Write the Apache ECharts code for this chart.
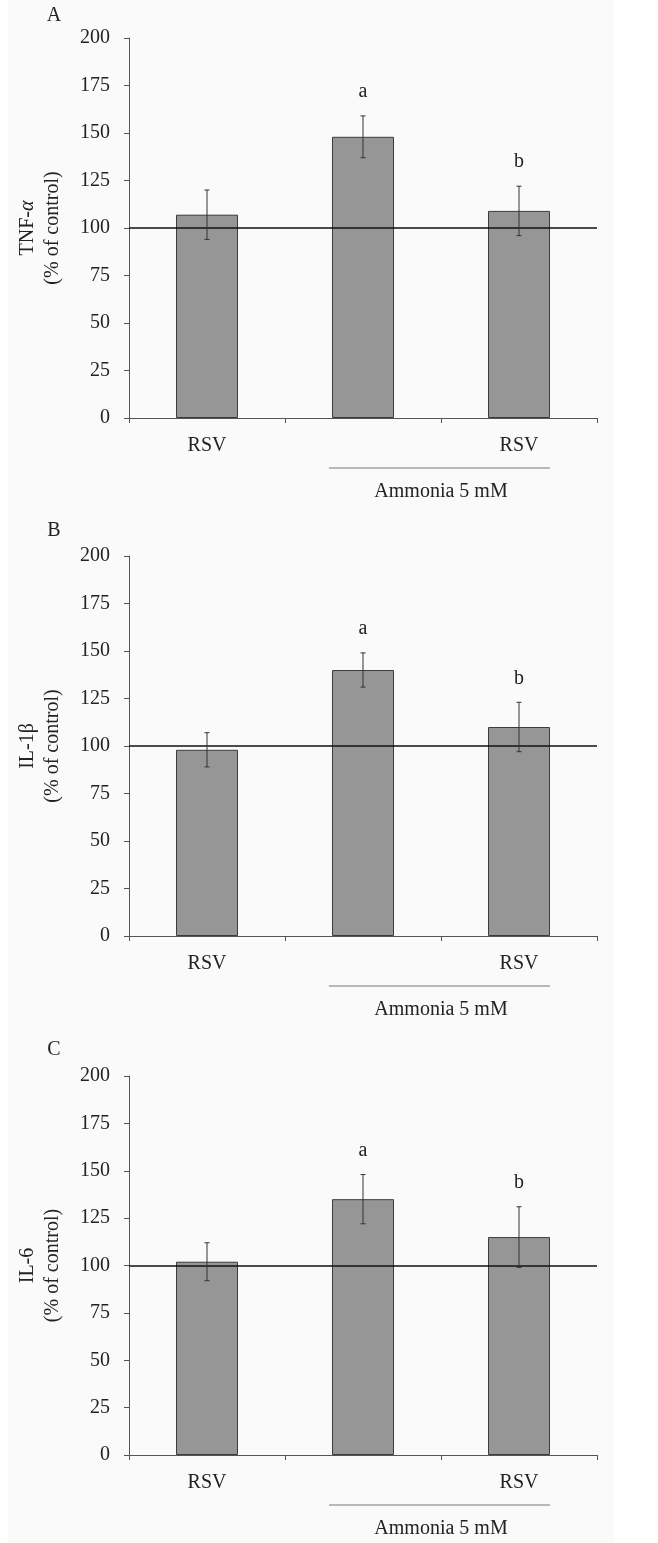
<!DOCTYPE html>
<html>
<head>
<meta charset="utf-8">
<script src="https://cdn.jsdelivr.net/npm/echarts@6/dist/echarts.min.js"></script>
<style>
html,body{margin:0;padding:0;background:#fff;}
#chart{width:658px;height:1543px;}
</style>
</head>
<body>
<div id="chart"></div>
<script>
// ---- data ----
const categories = ['RSV', 'Ammonia', 'Ammonia + RSV'];
const tickLabels = ['RSV', '', 'RSV'];
const groupLabel = 'Ammonia 5 mM';
const panelLetters = ['A', 'B', 'C'];
const sigLetters = ['', 'a', 'b'];
const controlLevel = 100;
const yMin = 0, yMax = 200, yStep = 25;

const tnfMean = [107, 148, 109];
const tnfErr = [13, 11, 13];
const il1bMean = [98, 140, 110];
const il1bErr = [9, 9, 13];
const il6Mean = [102, 135, 115];
const il6Err = [10, 13, 16];

const panelNames = [
  '{n|TNF-}{i|α}\n{n|(% of control)}',
  '{n|IL-1β}\n{n|(% of control)}',
  '{n|IL-6}\n{n|(% of control)}'
];
const panelMeans = [tnfMean, il1bMean, il6Mean];
const panelErrs = [tnfErr, il1bErr, il6Err];

// ---- layout ----
const FONT = '"Liberation Serif", "Times New Roman", serif';
const gridTops = [38, 556, 1076];
const gridHeights = [380, 380, 379];
const gridLeft = 129, gridWidth = 468;

const chart = echarts.init(document.getElementById('chart'), null, {renderer: 'canvas'});

const grids = [], xAxes = [], yAxes = [], series = [];
for (let p = 0; p < 3; p++) {
  grids.push({left: gridLeft, top: gridTops[p], width: gridWidth, height: gridHeights[p], containLabel: false});
  xAxes.push({
    type: 'category', gridIndex: p, data: categories, boundaryGap: true,
    axisLine: {show: true, lineStyle: {color: '#555', width: 1}},
    axisTick: {show: true, length: 5, inside: false, lineStyle: {color: '#555'}},
    axisLabel: {
      margin: 18, fontSize: 20, fontFamily: FONT, color: '#222',
      formatter: (v, i) => tickLabels[i]
    },
    splitLine: {show: false}
  });
  yAxes.push({
    type: 'value', gridIndex: p, min: yMin, max: yMax, interval: yStep,
    name: panelNames[p], nameLocation: 'middle', nameGap: 64, nameRotate: 90,
    nameTextStyle: {
      fontFamily: FONT, fontSize: 20, color: '#222', lineHeight: 25,
      rich: {
        n: {fontFamily: FONT, fontSize: 20, color: '#222', lineHeight: 25},
        i: {fontFamily: FONT, fontSize: 20, color: '#222', fontStyle: 'italic', lineHeight: 25}
      }
    },
    axisLine: {show: true, lineStyle: {color: '#555', width: 1}},
    axisTick: {show: true, length: 5, inside: false, lineStyle: {color: '#555'}},
    axisLabel: {margin: 19, fontSize: 20, fontFamily: FONT, color: '#222'},
    splitLine: {show: false}
  });
  const means = panelMeans[p], errs = panelErrs[p];
  series.push({
    type: 'bar', xAxisIndex: p, yAxisIndex: p, data: means, barWidth: 62,
    itemStyle: {color: '#969696', borderColor: '#3c3c3c', borderWidth: 1},
    z: 2, silent: true,
    markLine: {
      silent: true, symbol: 'none', label: {show: false},
      lineStyle: {color: '#111', width: 1.6, type: 'solid'},
      data: [{yAxis: controlLevel}]
    }
  });
  series.push({
    type: 'custom', xAxisIndex: p, yAxisIndex: p, z: 5, silent: true,
    data: means.map((m, i) => [i, m, errs[i]]),
    renderItem: function (params, api) {
      const x = api.value(0), m = api.value(1), e = api.value(2);
      const top = api.coord([x, m + e]);
      const bot = api.coord([x, m - e]);
      const cw = 2.5;
      const st = {stroke: '#333', lineWidth: 1};
      const children = [
        {type: 'line', shape: {x1: top[0], y1: top[1], x2: bot[0], y2: bot[1]}, style: st},
        {type: 'line', shape: {x1: top[0] - cw, y1: top[1], x2: top[0] + cw, y2: top[1]}, style: st},
        {type: 'line', shape: {x1: bot[0] - cw, y1: bot[1], x2: bot[0] + cw, y2: bot[1]}, style: st}
      ];
      const letter = sigLetters[params.dataIndex];
      if (letter) {
        children.push({
          type: 'text',
          style: {
            text: letter, x: top[0], y: top[1] - 14,
            align: 'center', verticalAlign: 'bottom',
            font: '20px ' + FONT, fill: '#222'
          }
        });
      }
      return {type: 'group', children: children};
    }
  });
}

const bgRects = [
  {type: 'rect', left: 8, top: 0, shape: {width: 606, height: 520}, style: {fill: '#fafafa'}, z: -10, silent: true},
  {type: 'rect', left: 8, top: 520, shape: {width: 606, height: 520}, style: {fill: '#fafafa'}, z: -10, silent: true},
  {type: 'rect', left: 8, top: 1040, shape: {width: 606, height: 503}, style: {fill: '#fafafa'}, z: -10, silent: true}
];

chart.setOption({
  backgroundColor: '#ffffff',
  animation: false,
  grid: grids, xAxis: xAxes, yAxis: yAxes, series: series,
  graphic: bgRects
});

// annotations: panel letters, bracket and group label, placed from the axes
const letterCenters = [16, 531, 1050];
const extra = [];
for (let p = 0; p < 3; p++) {
  const c1 = chart.convertToPixel({xAxisIndex: p}, categories[1]);
  const c2 = chart.convertToPixel({xAxisIndex: p}, categories[2]);
  const y0 = chart.convertToPixel({yAxisIndex: p}, 0);
  extra.push({
    type: 'line', silent: true, z: 10,
    shape: {x1: c1 - 34, y1: y0 + 50, x2: c2 + 31, y2: y0 + 50},
    style: {stroke: '#777', lineWidth: 1}
  });
  extra.push({
    type: 'text', silent: true, z: 10,
    style: {text: groupLabel, x: (c1 + c2) / 2, y: y0 + 74, align: 'center', verticalAlign: 'middle', font: '20px ' + FONT, fill: '#222'}
  });
  extra.push({
    type: 'text', silent: true, z: 10,
    style: {text: panelLetters[p], x: 54, y: letterCenters[p], align: 'center', verticalAlign: 'middle', font: '20px ' + FONT, fill: '#222'}
  });
}
chart.setOption({graphic: bgRects.concat(extra)});
</script>
</body>
</html>
